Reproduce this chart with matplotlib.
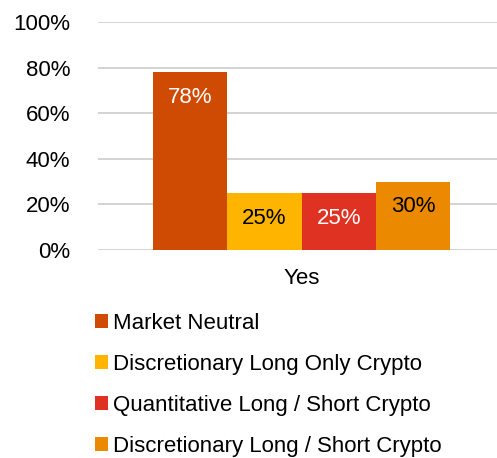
import matplotlib.pyplot as plt
from matplotlib.patches import Patch

plt.rcParams['font.family'] = ['Liberation Sans', 'DejaVu Sans']

category = 'Yes'
series = ['Market Neutral', 'Discretionary Long Only Crypto',
          'Quantitative Long / Short Crypto', 'Discretionary Long / Short Crypto']
values = [78, 25, 25, 30]
colors = ['#CF4A02', '#FFB400', '#E03222', '#EB8A00']
label_colors = ['white', 'black', 'white', 'black']

W, H = 497, 458
fig = plt.figure(figsize=(W / 100, H / 100), dpi=100)
# plot area in pixels: x 98..497, y 22..250
ax = fig.add_axes([98 / W, 1 - 250 / H, (497 - 98) / W, (250 - 22) / H])

fs = 16
bw = 74.25
for i, (name, v, c, lc) in enumerate(zip(series, values, colors, label_colors)):
    x = (i - 1.5) * bw
    ax.bar(x, v, width=bw, color=c, zorder=3, label=name)
    ax.annotate(f'{v}%', (x, v), xytext=(0, -18), textcoords='offset points',
                ha='center', va='center', fontsize=fs, color=lc, zorder=4)

ax.set_xlim(-203.5, 195.5)
ax.set_ylim(0, 100)
ax.set_yticks(range(0, 101, 20))
ax.set_yticklabels([f'{t}%' for t in range(0, 101, 20)], fontsize=fs)
ax.set_xticks([0])
ax.set_xticklabels([category], fontsize=fs)
ax.tick_params(axis='both', length=0)
ax.tick_params(axis='y', pad=20)
ax.tick_params(axis='x', pad=13)
ax.grid(axis='y', color='#D0D0D0', linewidth=1.3, zorder=0)
for s in ax.spines.values():
    s.set_visible(False)

handles = [Patch(facecolor=c, edgecolor='none') for c in colors]
fig.legend(handles, series, loc='upper left', bbox_to_anchor=(95 / W, 1 - 313 / H),
           frameon=False, fontsize=fs, handlelength=0.6, handleheight=0.6,
           handletextpad=0.2, labelspacing=0.9, borderaxespad=0, borderpad=0)

fig.savefig('out.png', dpi=100)
